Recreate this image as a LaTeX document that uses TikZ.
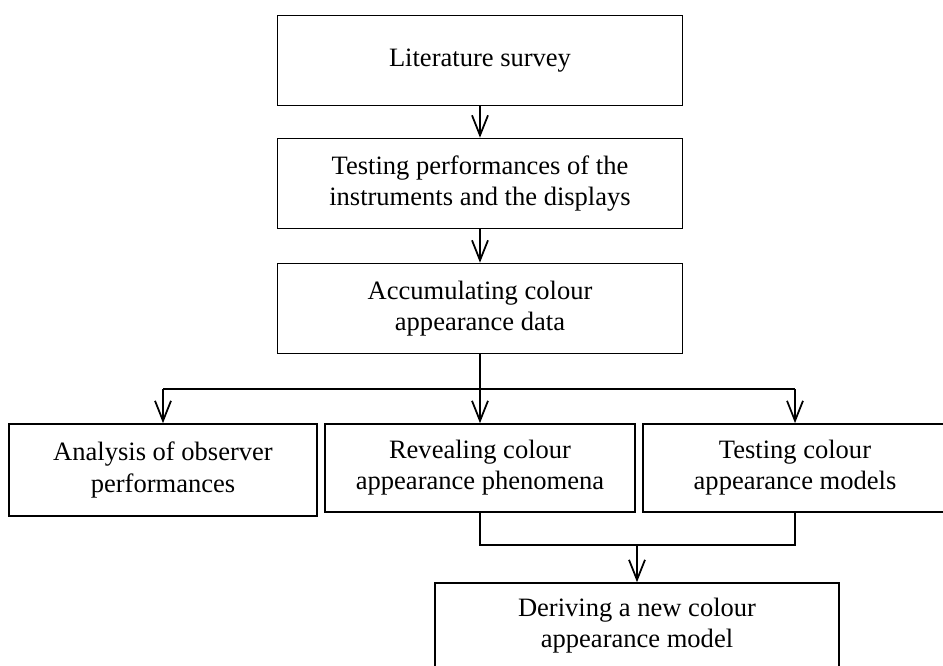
\documentclass[tikz,border=0pt]{standalone}
\usepackage{fontspec}
\setmainfont{Liberation Serif}
\usetikzlibrary{arrows.meta,calc}
\begin{document}
\begin{tikzpicture}[x=0.75pt,y=-0.75pt,
  box/.style={draw,line width=1.3pt,minimum height=67.5pt,align=center,
    font=\fontsize{19.9}{23.3}\selectfont,inner sep=0pt},
  link/.style={line width=1.3pt},
  arr/.style={link,-{Straight Barb[length=15pt,width=12pt,line width=1.3pt]}}]
\useasboundingbox (0,0) rectangle (943,665);
\begin{scope}
\clip (0,0) rectangle (943,665);
\node[box,minimum width=303.75pt] (lit) at (480,60.5) {Literature survey};
\node[box,minimum width=303.75pt] (test) at (480,183.5) {Testing performances of the\\instruments and the displays};
\node[box,minimum width=303.75pt] (acc) at (480,308.5) {Accumulating colour\\appearance data};
\node[box,minimum width=231pt,minimum height=69pt] (ana) at (163,470) {Analysis of observer\\performances};
\node[box,minimum width=232.5pt,minimum height=66pt] (rev) at (480,468) {Revealing colour\\appearance phenomena};
\node[box,minimum width=228pt,minimum height=66pt] (tcm) at (795,468) {Testing colour\\appearance models};
\node[box,minimum width=303pt,minimum height=63.75pt] (der) at (637,625.5) {Deriving a new colour\\appearance model};

\coordinate (split) at (480,389);
\coordinate (join) at (637,545);

\draw[arr] (lit) -- (test);
\draw[arr] (test) -- (acc);
\draw[link] (acc.south) -- (split);
\draw[link] (ana.north |- split) -- (tcm.north |- split);
\draw[arr] (split) -- (rev.north);
\draw[arr] (ana.north |- split) -- (ana.north);
\draw[arr] (tcm.north |- split) -- (tcm.north);
\draw[link] (rev.south) -- (rev.south |- join) -- (tcm.south |- join) -- (tcm.south);
\draw[arr] (join) -- (der.north);
\end{scope}
\end{tikzpicture}
\end{document}
